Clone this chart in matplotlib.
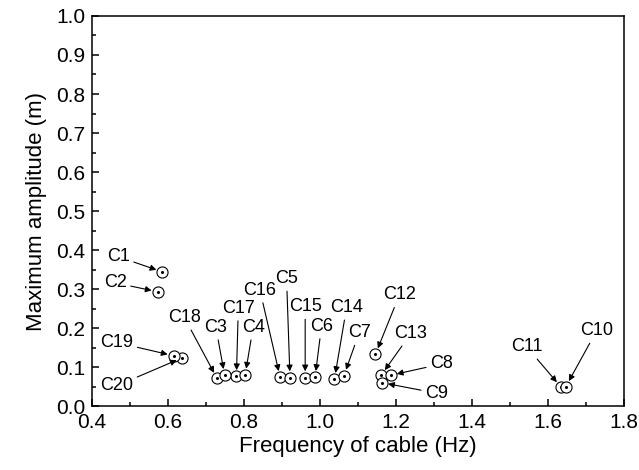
import matplotlib
matplotlib.use("Agg")
import matplotlib.pyplot as plt
from matplotlib.ticker import MultipleLocator

plt.rcParams['font.family'] = ['Liberation Sans', 'DejaVu Sans']

# cable frequency (Hz) and max amplitude (m)
cables = ["C1", "C2", "C3", "C4", "C5", "C6", "C7", "C8", "C9", "C10",
          "C11", "C12", "C13", "C14", "C15", "C16", "C17", "C18", "C19", "C20"]
freq = [0.585, 0.573, 0.749, 0.803, 0.921, 0.987, 1.063, 1.186, 1.163, 1.647,
        1.634, 1.146, 1.161, 1.038, 0.961, 0.895, 0.780, 0.729, 0.615, 0.638]
amp = [0.344, 0.293, 0.079, 0.080, 0.073, 0.074, 0.078, 0.079, 0.060, 0.050,
       0.049, 0.133, 0.079, 0.069, 0.073, 0.074, 0.076, 0.071, 0.129, 0.124]

# where each cable name sits
label_pos = {
    "C1": (0.469, 0.383), "C2": (0.461, 0.316), "C19": (0.465, 0.163),
    "C20": (0.465, 0.052), "C18": (0.643, 0.227), "C3": (0.726, 0.202),
    "C17": (0.785, 0.251), "C4": (0.824, 0.202), "C16": (0.842, 0.297),
    "C5": (0.912, 0.327), "C15": (0.961, 0.255), "C6": (1.004, 0.205),
    "C14": (1.070, 0.253), "C7": (1.103, 0.188), "C12": (1.209, 0.285),
    "C13": (1.239, 0.186), "C8": (1.320, 0.108), "C9": (1.307, 0.033),
    "C11": (1.544, 0.152), "C10": (1.728, 0.193),
}

fig = plt.figure(figsize=(6.39, 4.70), dpi=100)
ax = fig.add_axes([0.144, 0.136, 0.8325, 0.83])

# plot in reverse so lower-numbered circles end up on top
order = list(range(len(cables)))[::-1]
for i in order:
    ax.plot(freq[i], amp[i], 'o', ms=8, mfc='white', mec='black', mew=0.8, zorder=3)
    ax.plot(freq[i], amp[i], 'o', ms=1.2, color='black', zorder=3)

for name, f, a in zip(cables, freq, amp):
    ax.annotate(name, xy=(f, a), xytext=label_pos[name],
                fontsize=13, ha='center', va='center',
                arrowprops=dict(arrowstyle='-|>', color='black', lw=0.8,
                                mutation_scale=9, shrinkA=1, shrinkB=4.5))

ax.set_xlim(0.4, 1.8)
ax.set_ylim(0.0, 1.0)
ax.xaxis.set_major_locator(MultipleLocator(0.2))
ax.xaxis.set_minor_locator(MultipleLocator(0.1))
ax.yaxis.set_major_locator(MultipleLocator(0.1))
ax.yaxis.set_minor_locator(MultipleLocator(0.05))
ax.xaxis.set_major_formatter(plt.FormatStrFormatter('%.1f'))
ax.yaxis.set_major_formatter(plt.FormatStrFormatter('%.1f'))

ax.tick_params(which='both', direction='in', top=False, right=False, width=1.1)
ax.tick_params(which='major', length=5, labelsize=15, pad=5)
ax.tick_params(which='minor', length=3)
for sp in ax.spines.values():
    sp.set_linewidth(1.1)

ax.set_xlabel("Frequency of cable (Hz)", fontsize=16, labelpad=3)
ax.set_ylabel("Maximum amplitude (m)", fontsize=16, labelpad=6)

fig.savefig("out.png", dpi=100)
